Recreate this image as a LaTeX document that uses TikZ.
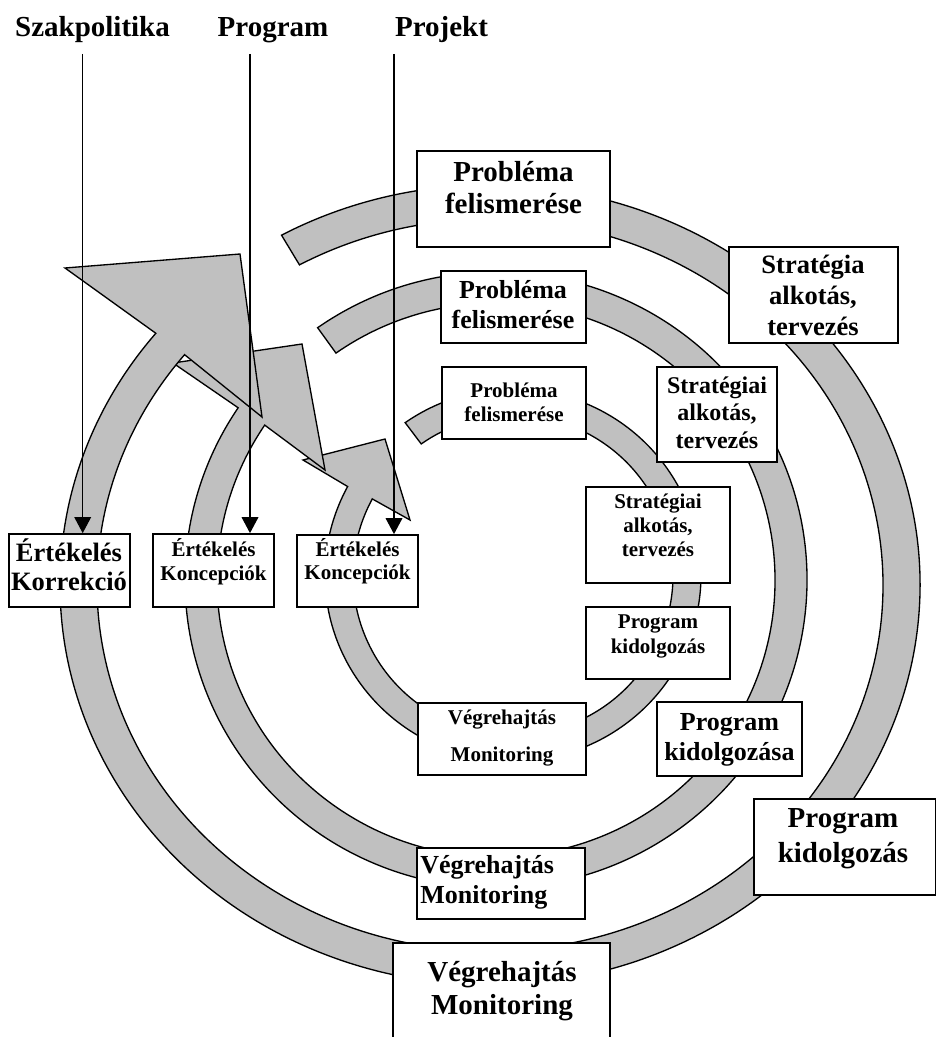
\documentclass[tikz,border=0pt]{standalone}
\usepackage{fontspec}
\setmainfont{Liberation Serif}
\usetikzlibrary{arrows.meta}
\definecolor{bandgray}{RGB}{192,192,192}
\newcommand\mybox[5]{\node[box, minimum width={(#4-#2)*0.75pt}, minimum height={(#5-#3)*0.75pt}] (#1) at ({(#2+#4)/2},{-(#3+#5)/2}) {};}
\begin{document}
\begin{tikzpicture}[x=0.75pt,y=0.75pt,
  band/.style={fill=bandgray, draw=black, line width=1pt, line join=miter},
  box/.style={draw=black, fill=white, line width=1.3pt, inner sep=0pt},
  txt/.style={inner sep=0pt, anchor=base},
  fA/.style={font=\fontsize{21.75}{26}\selectfont\bfseries},
  fB/.style={font=\fontsize{19.9}{24}\selectfont\bfseries},
  fC/.style={font=\fontsize{19.5}{23}\selectfont\bfseries},
  fD/.style={font=\fontsize{18}{22}\selectfont\bfseries},
  fE/.style={font=\fontsize{15.75}{19}\selectfont\bfseries},
  feed/.style={line width=1pt, -{Triangle[length=12pt,width=12.5pt]}}]
\useasboundingbox (0,0) rectangle (937,-1037);

% inner band
\draw[band] ([shift={(513,-575)}]125:188 and 186) arc[start angle=125, end angle=-208.4, x radius=188, y radius=186]
  -- (303,-460) -- (385,-439) -- (410,-520)
  -- ([shift={(513,-575)}]-208.4:160 and 160) arc[start angle=-208.4, end angle=125, x radius=160, y radius=160] -- cycle;
% middle band
\draw[band] ([shift={(496,-580)}]125:311 and 308) arc[start angle=125, end angle=-214, x radius=311, y radius=308]
  -- (173,-363) -- (302,-344) -- (325,-470)
  -- ([shift={(496,-580)}]-214:279 and 277) arc[start angle=-214, end angle=125, x radius=279, y radius=277] -- cycle;
% outer band
\draw[band] ([shift={(490,-585)}]119:430 and 400) arc[start angle=119, end angle=-219, x radius=430, y radius=400]
  -- (65,-268) -- (240,-254) -- (262,-417)
  -- ([shift={(490,-585)}]-219:393 and 366) arc[start angle=-219, end angle=119, x radius=393, y radius=366] -- cycle;

% boxes
\mybox{op}{417}{151}{610}{247}
\mybox{os}{729}{247}{898}{343}
\mybox{opk}{754}{799}{935.5}{895}
\mybox{ov}{393}{943}{610}{1050}
\mybox{oe}{9}{534}{130}{607}
\mybox{mp}{441}{271}{586}{343}
\mybox{ms}{657}{367}{777}{462}
\mybox{mpk}{657}{702}{802}{776}
\mybox{mv}{417}{848}{585}{919}
\mybox{me}{153}{534}{274}{607}
\mybox{ip}{442}{367}{586}{439}
\mybox{is}{586}{487}{730}{583}
\mybox{ipk}{586}{607}{730}{679}
\mybox{iv}{418}{703}{586}{775}
\mybox{ie}{297}{535}{418}{607}

% top labels
\node[txt,fA] (lsz) at (92.5,-37) {Szakpolitika};
\node[txt,fA] (lpg) at (273,-37) {Program};
\node[txt,fA] (lpj) at (441.5,-37) {Projekt};

% outer texts
\node[txt,fA] (op1) at (513.5,-181.7) {Probléma};
\node[txt,fA] (op2) at (513.5,-213.3) {felismerése};
\node[txt,fB] (os1) at (813,-273) {Stratégia};
\node[txt,fB] (os2) at (813,-305) {alkotás,};
\node[txt,fB] (os3) at (813,-335) {tervezés};
\node[txt,fA] (opk1) at (843,-827) {Program};
\node[txt,fA] (opk2) at (843,-862) {kidolgozás};
\node[txt,fA] (ov1) at (502,-981) {Végrehajtás};
\node[txt,fA] (ov2) at (502,-1014) {Monitoring};
\node[txt,fB] (oe1) at (69,-561) {Értékelés};
\node[txt,fB] (oe2) at (69,-590) {Korrekció};

% middle texts
\node[txt,fC] (mp1) at (513,-298) {Probléma};
\node[txt,fC] (mp2) at (513,-328) {felismerése};
\node[txt,fD] (ms1) at (717,-393) {Stratégiai};
\node[txt,fD] (ms2) at (717,-420) {alkotás,};
\node[txt,fD] (ms3) at (717,-448) {tervezés};
\node[txt,fC] (mpk1) at (729.5,-730) {Program};
\node[txt,fC] (mpk2) at (729.5,-760) {kidolgozása};
\node[txt,fC,anchor=base west] (mv1) at (420,-873) {Végrehajtás};
\node[txt,fC,anchor=base west] (mv2) at (420,-903) {Monitoring};
\node[txt,fE] (me1) at (213.5,-556) {Értékelés};
\node[txt,fE] (me2) at (213.5,-580) {Koncepciók};

% inner texts
\node[txt,fE] (ip1) at (514,-397) {Probléma};
\node[txt,fE] (ip2) at (514,-421) {felismerése};
\node[txt,fE] (is1) at (658,-508) {Stratégiai};
\node[txt,fE] (is2) at (658,-532) {alkotás,};
\node[txt,fE] (is3) at (658,-556) {tervezés};
\node[txt,fE] (ipk1) at (658,-628) {Program};
\node[txt,fE] (ipk2) at (658,-653) {kidolgozás};
\node[txt,fE] (iv1) at (502,-724) {Végrehajtás};
\node[txt,fE] (iv2) at (502,-761) {Monitoring};
\node[txt,fE] (ie1) at (357.5,-556) {Értékelés};
\node[txt,fE] (ie2) at (357.5,-579) {Koncepciók};

% feed arrows
\coordinate (szs) at (82.7,-54);
\coordinate (pgs) at (250,-54);
\coordinate (pjs) at (394,-54);
\draw[feed] (szs) -- (szs |- oe.north);
\draw[feed] (pgs) -- (pgs |- me.north);
\draw[feed] (pjs) -- (pjs |- ie.north);
\end{tikzpicture}
\end{document}
